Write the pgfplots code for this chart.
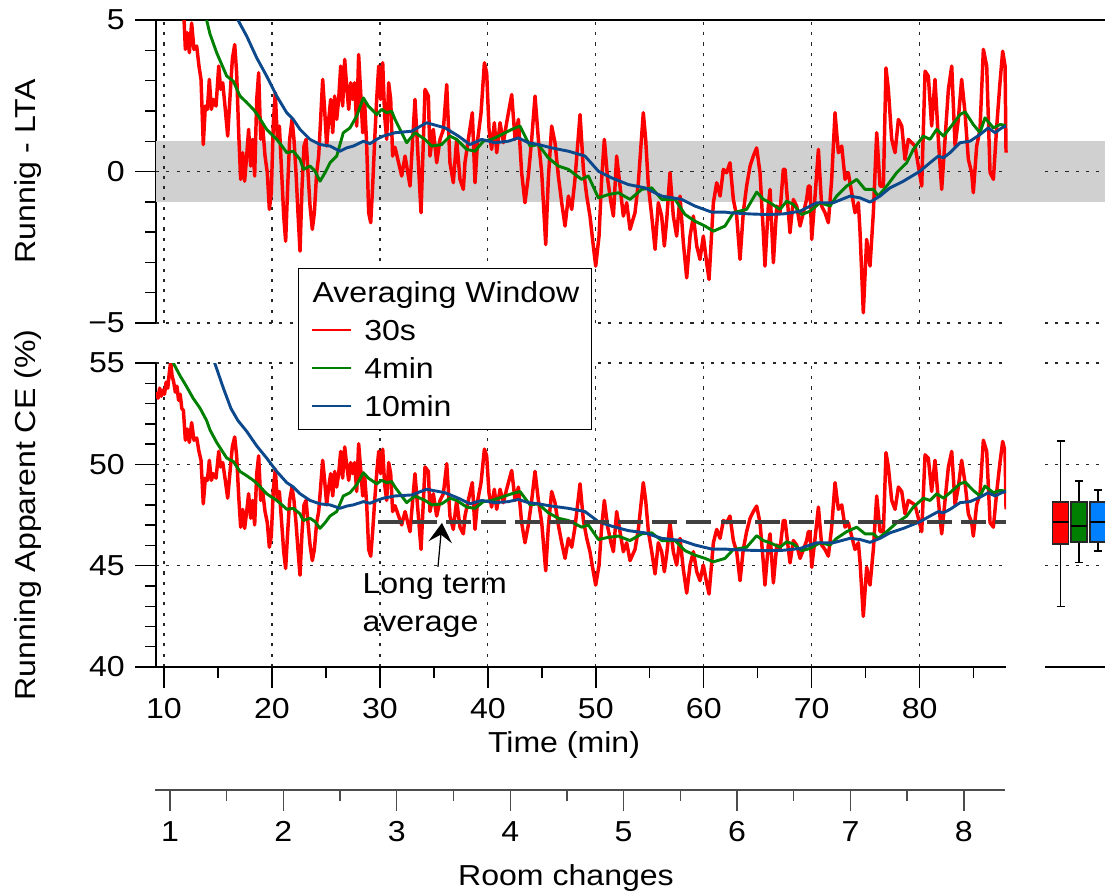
\documentclass[border=0pt]{standalone}
\usepackage{fontspec}
\setmainfont{Liberation Sans}[FakeStretch=1.11]
\usepackage{pgfplots}
\usepackage{pgfplotstable}
\pgfplotsset{compat=1.18}
\usetikzlibrary{arrows.meta}

\definecolor{w30s}{RGB}{255,0,0}
\definecolor{w4min}{RGB}{0,128,0}
\definecolor{w10min}{RGB}{12,72,140}
\definecolor{boxblue}{RGB}{0,128,255}
\definecolor{bandgray}{RGB}{208,208,208}
\definecolor{ltagray}{RGB}{64,64,64}

% running value minus long term average (LTA = 47.16 %)
\pgfplotstableread{
t dev
9.30 6.40
9.45 6.10
9.60 6.60
9.75 6.20
9.90 6.50
10.05 6.30
10.20 6.90
10.35 6.60
10.50 7.40
10.62 7.90
10.75 7.20
10.90 6.90
11.05 6.40
11.20 6.70
11.35 6.00
11.50 6.30
11.65 5.60
11.80 5.50
11.98 4.03
12.16 4.58
12.35 3.92
12.56 4.90
12.78 4.03
13.03 4.14
13.24 3.48
13.43 3.04
13.64 0.89
13.83 2.16
14.02 2.05
14.20 3.04
14.39 2.05
14.57 2.38
14.82 2.16
15.07 3.48
15.25 2.71
15.44 2.93
15.68 2.05
15.90 1.17
16.12 2.49
16.33 3.70
16.55 4.19
16.73 3.26
16.92 1.28
17.10 -0.26
17.29 0.62
17.47 -0.32
17.66 0.51
17.84 1.39
18.03 0.18
18.21 1.06
18.40 -0.15
18.59 2.38
18.77 3.26
18.96 1.06
19.14 1.50
19.36 0.51
19.57 -0.04
19.76 -1.25
19.94 -0.70
20.13 1.61
20.31 2.60
20.50 1.06
20.69 1.50
20.90 -0.04
21.09 -1.47
21.27 -2.30
21.46 -0.48
21.64 1.06
21.86 1.72
22.04 1.06
22.23 -0.04
22.41 -1.36
22.60 -2.63
22.79 -0.48
22.97 0.84
23.16 1.06
23.34 -0.04
23.53 -1.14
23.74 -1.91
23.93 -1.36
24.14 -0.04
24.33 0.51
24.51 1.72
24.70 3.04
24.88 2.05
25.07 0.84
25.26 1.72
25.44 2.38
25.63 1.28
25.81 2.49
26.00 1.72
26.18 2.38
26.37 3.48
26.55 2.16
26.74 3.70
26.92 2.82
27.11 2.05
27.29 2.93
27.48 2.38
27.66 2.93
27.85 1.50
28.03 3.86
28.22 2.60
28.41 1.28
28.59 2.27
28.78 0.84
28.96 -1.36
29.15 -1.69
29.33 -0.48
29.52 1.06
29.70 2.38
29.89 3.48
30.07 2.38
30.26 3.59
30.44 1.83
30.63 1.06
30.81 2.93
31.00 2.38
31.18 0.51
31.40 0.80
32.02 -0.15
32.33 0.51
32.79 -0.48
33.25 2.38
33.81 -1.36
34.18 2.71
34.49 2.49
34.64 0.51
34.95 1.39
35.26 0.29
35.57 1.06
35.88 1.39
36.19 2.87
36.49 0.29
36.80 -0.37
37.11 1.06
37.42 -0.26
37.73 -0.59
37.88 0.29
38.19 1.06
38.56 1.94
38.81 -0.37
39.06 1.06
39.37 1.94
39.68 3.59
39.89 3.26
40.11 1.39
40.35 0.73
40.60 1.61
40.82 0.62
41.13 1.61
41.44 0.95
41.74 1.61
42.21 2.54
42.52 1.06
42.83 1.72
43.13 -0.04
43.44 -1.03
43.75 -0.15
44.06 1.06
44.37 2.49
44.68 1.06
44.99 -0.04
45.36 -2.41
45.60 -0.26
45.91 1.50
46.22 0.95
46.53 -0.15
46.84 -1.03
47.15 -1.80
47.46 -0.81
47.77 -1.25
48.07 -0.26
48.54 1.88
48.85 0.07
49.16 -0.81
49.46 -1.47
49.77 -2.46
49.99 -3.12
50.30 -2.13
50.54 -0.26
50.79 1.06
51.10 -0.26
51.41 -1.03
51.63 -1.47
51.93 0.51
52.24 -0.48
52.55 -1.47
52.86 -1.03
53.17 -1.91
53.63 -1.36
53.94 -0.37
54.40 1.94
54.62 1.06
54.87 -0.48
55.18 -1.47
55.49 -2.57
55.79 -1.03
56.10 -1.47
56.35 -2.46
56.57 -1.58
56.87 -0.04
57.18 -1.47
57.49 -2.13
57.80 -0.81
58.11 -2.35
58.42 -3.51
58.73 -2.13
59.04 -1.47
59.35 -2.46
59.65 -2.90
59.96 -2.13
60.27 -3.01
60.49 -3.56
60.89 -1.03
61.20 -0.37
61.51 -0.81
61.82 0.07
62.12 -0.04
62.43 0.29
62.74 -0.92
63.05 -1.47
63.36 -2.90
63.66 -1.36
63.97 -0.48
64.29 0.18
64.59 0.51
64.90 0.78
65.21 -0.04
65.52 -2.02
65.67 -3.12
65.98 -1.14
66.14 -0.59
66.45 -3.01
66.76 -1.14
67.06 -1.36
67.37 0.07
67.53 0.07
67.84 -1.36
67.99 -2.02
68.30 -0.92
68.61 -1.14
68.92 -1.80
69.23 -1.36
69.53 -0.92
69.69 -0.48
69.84 -0.48
70.00 -2.24
70.31 -0.81
70.62 0.73
70.92 -1.14
71.23 -1.36
71.54 -1.69
71.85 -0.26
72.16 1.94
72.47 0.62
72.78 0.84
73.09 -0.26
73.39 -0.04
73.70 -0.70
74.01 -1.36
74.32 -1.03
74.48 -2.02
74.78 -4.66
75.09 -2.24
75.40 -3.12
75.71 -1.36
76.02 1.28
76.33 -0.48
76.64 -0.48
76.88 3.42
77.10 2.71
77.41 1.06
77.72 0.62
78.03 1.72
78.34 1.50
78.64 0.40
78.95 1.06
79.26 0.95
79.57 0.84
79.88 0.18
80.19 -0.48
80.50 3.31
80.80 3.15
81.11 1.50
81.42 3.04
81.73 1.06
82.04 -0.59
82.35 1.06
82.66 2.71
82.97 3.48
83.28 0.84
83.58 1.72
83.89 3.04
84.20 1.94
84.51 0.40
84.82 -0.04
84.97 -0.70
85.28 0.84
85.59 1.39
85.90 4.03
86.21 3.48
86.52 -0.04
86.83 -0.26
87.14 1.50
87.44 2.93
87.69 3.97
87.91 3.48
88.00 0.62
}\thirtysec

\pgfplotstableread{
t dev
10.50 8.20
10.86 7.84
11.50 7.20
12.10 6.67
12.70 6.10
13.34 5.61
13.95 5.00
14.26 4.54
14.88 3.92
15.81 3.15
16.42 2.98
17.04 2.49
17.60 2.30
18.28 2.05
18.74 1.83
19.51 1.39
20.44 1.06
21.06 0.78
21.37 0.62
21.98 0.67
22.60 0.40
22.91 0.07
23.53 0.18
24.00 0.01
24.45 -0.32
24.92 -0.04
25.38 0.29
26.00 0.51
26.61 1.28
27.23 1.44
27.85 1.83
28.47 2.43
28.93 2.16
29.70 1.88
30.16 2.05
30.63 1.94
31.09 1.99
31.40 1.72
31.86 1.39
32.48 0.95
33.25 1.28
34.18 1.06
34.80 0.84
35.72 0.89
36.49 1.17
37.11 1.06
38.04 0.73
38.81 0.67
39.58 1.00
40.35 1.06
41.28 1.22
42.21 1.39
42.98 1.50
43.44 1.17
43.91 0.84
44.68 0.89
45.60 0.45
46.53 0.18
47.46 0.07
48.69 -0.26
49.31 -0.15
50.24 -0.87
51.16 -0.76
52.09 -0.70
53.17 -0.92
54.25 -0.59
55.18 -0.54
56.10 -0.92
57.34 -0.92
58.27 -1.42
59.19 -1.64
60.12 -1.80
60.89 -1.97
61.97 -1.80
62.74 -1.36
63.97 -1.25
64.90 -0.68
65.52 -0.92
66.14 -1.03
67.06 -1.25
67.68 -0.98
68.30 -1.09
69.07 -1.42
69.84 -1.31
70.77 -1.03
71.70 -1.14
72.31 -0.81
73.24 -0.48
74.17 -0.26
74.94 -0.59
75.71 -0.59
76.17 -0.81
76.95 -0.48
77.87 -0.04
78.80 0.29
79.41 0.73
80.34 1.17
80.96 1.06
81.58 1.39
82.20 1.17
82.81 1.44
83.74 1.88
84.20 1.97
84.97 1.55
85.59 1.28
86.05 1.77
86.83 1.44
87.45 1.55
88.00 1.52
}\fourmin

\pgfplotstableread{
t dev
13.50 9.00
14.70 7.84
15.50 6.60
16.20 5.60
16.85 5.00
17.66 4.47
18.59 3.75
19.51 3.15
20.44 2.49
21.37 1.94
21.98 1.72
22.60 1.39
23.53 1.06
24.45 0.89
25.38 0.84
26.30 0.67
26.92 0.78
27.54 0.84
28.47 1.00
29.08 0.92
29.70 1.06
30.32 1.17
31.40 1.28
32.94 1.33
34.33 1.61
36.03 1.44
37.27 1.17
38.35 0.89
39.43 1.06
40.66 0.95
41.90 1.00
42.83 1.11
43.75 0.95
44.68 0.89
45.91 0.78
47.46 0.67
49.00 0.51
50.24 0.01
51.47 -0.21
53.01 -0.43
54.56 -0.54
56.10 -0.81
57.96 -0.92
59.19 -1.14
60.73 -1.34
61.97 -1.34
62.43 -1.36
64.28 -1.40
65.83 -1.42
67.37 -1.40
68.92 -1.31
70.46 -1.03
72.00 -1.03
73.55 -0.81
74.48 -0.87
75.40 -1.01
76.33 -0.81
77.25 -0.54
78.49 -0.32
80.03 0.01
80.96 0.29
81.73 0.51
82.20 0.45
82.81 0.62
83.74 0.95
84.66 1.00
85.59 1.22
86.36 1.44
86.98 1.28
87.60 1.44
88.00 1.50
}\tenmin

\tikzset{gridline/.style={black!85, line width=0.45pt, dash pattern=on 1.1pt off 2.6pt}}
\pgfplotsset{
  /pgf/number format/assume math mode=true,
  panel/.style={
    scale only axis,
    tick align=outside,
    major tick length=7.56pt,
    minor tick length=3.96pt,
    every tick/.style={black, line width=0.5pt},
    axis line style={black, line width=0.5pt},
    clip mode=individual,
  },
  series/.style={line width=1.05pt, line join=round},
  fast/.style={line width=1.25pt, line join=round},
  boxedge/.style={draw=black!85, line width=0.7pt},
  legend image code/.code={\draw[#1, line width=0.8pt] (0pt,0pt) -- (14pt,0pt);},
}

\begin{document}
\fontsize{10.4}{12.5}\selectfont
\begin{tikzpicture}

% upper panel: running value minus LTA
\begin{axis}[panel,
  anchor=north west, at={(56.16pt,-7.2pt)},
  width=341.64pt, height=109.08pt,
  xmin=9.26, xmax=97.17, ymin=-5, ymax=5,
  axis x line*=top, axis y line*=left,
  xtick=\empty,
  ytick={-5,0,5}, yticklabels={−5,0,5},
  minor ytick={-4,-3,-2,-1,1,2,3,4},
  ylabel={Runnig - LTA},
  ylabel style={at={(axis description cs:-0.1349,0.5)}, anchor=center},
]
  \fill[bandgray] (axis cs:9.3,-1) rectangle (axis cs:97.17,1);
  \pgfplotsinvokeforeach{10,20,...,80}{\draw[gridline] (axis cs:#1,-5) -- (axis cs:#1,5);}
  \draw[gridline] (axis cs:9.26,0) -- (axis cs:88,0) (axis cs:91.6,0) -- (axis cs:97.17,0);
  \draw[gridline] (axis cs:9.26,-5) -- (axis cs:88,-5) (axis cs:91.6,-5) -- (axis cs:97.17,-5);
  \addplot[fast, w30s] table[x=t, y=dev] {\thirtysec};
  \addplot[series, w4min] table[x=t, y=dev] {\fourmin};
  \addplot[series, w10min] table[x=t, y=dev] {\tenmin};
\end{axis}

% lower panel: running apparent CE
\begin{axis}[panel,
  anchor=north west, at={(56.16pt,-130.68pt)},
  width=306pt, height=109.44pt,
  xmin=9.26, xmax=88, ymin=40, ymax=55,
  axis x line*=bottom, axis y line*=left,
  xtick={10,20,...,80}, minor xtick={15,25,...,85},
  ytick={40,45,50,55}, minor ytick={41,42,43,44,46,47,48,49,51,52,53,54},
  grid=major, major grid style={gridline},
  xlabel={Time (min)},
  xlabel style={at={(axis description cs:0.48,-0.2566)}, anchor=center},
  ylabel={Running Apparent CE (\%)},
  ylabel style={at={(axis description cs:-0.1506,0.5)}, anchor=center},
  legend style={
    at={(axis description cs:0.16706,1.3125)}, anchor=north west,
    draw=black, line width=0.5pt, fill=white,
    inner xsep=4.3pt, inner ysep=4.8pt,
    row sep=6.5pt, column sep=4.5pt,
    nodes={inner sep=0pt, text height=7.2pt, text depth=0pt},
    cells={anchor=west},
  },
]
  \addlegendimage{empty legend}
  \addlegendentry{\hspace*{-18.6pt}Averaging Window}
  \addplot[fast, w30s] table[x=t, y expr=\thisrow{dev}+47.16] {\thirtysec};
  \addlegendentry{30s}
  \addplot[series, w4min] table[x=t, y expr=\thisrow{dev}+47.16] {\fourmin};
  \addlegendentry{4min}
  \addplot[series, w10min] table[x=t, y expr=\thisrow{dev}+47.16] {\tenmin};
  \addlegendentry{10min}
  \addplot[ltagray, line width=1.44pt, dash pattern=on 9pt off 3.35pt, forget plot]
    coordinates {(29.8,47.16) (88,47.16)};
  \draw[line width=0.45pt, -{Stealth[length=7pt,width=8.5pt,inset=2.8pt]}]
    (axis cs:35.38,44.94) -- (axis cs:35.75,47.11);
  \node[anchor=north west, align=left, inner sep=0pt, font=\fontsize{10.4}{13.7}\selectfont]
    at (axis cs:28.34,44.64) {Long term\\average};
\end{axis}

% distribution of each running series (whiskers, quartile box, median)
\begin{axis}[panel,
  anchor=north west, at={(376.2pt,-130.68pt)},
  width=21.6pt, height=109.44pt,
  xmin=0, xmax=60, ymin=40, ymax=55,
  axis x line*=bottom, axis y line*=left,
  y axis line style={draw=none},
  xtick=\empty, ytick={45,50,55}, yticklabels={}, ytick style={draw=none},
  ymajorgrids, major grid style={gridline},
  clip=false,
]
  % 30 s window
  \addplot[black, line width=0.6pt] coordinates {(15.5,42.98) (15.5,51.15)};
  \addplot[black, line width=0.6pt] coordinates {(11.5,51.15) (19.5,51.15)};
  \addplot[black, line width=0.6pt] coordinates {(11.5,42.98) (19.5,42.98)};
  \addplot[boxedge, fill=w30s] coordinates {(7.5,46.06) (23.5,46.06) (23.5,48.13) (7.5,48.13)} -- cycle;
  \addplot[black, line width=0.6pt] coordinates {(7.5,47.15) (23.5,47.15)};
  % 4 min window
  \addplot[black, line width=0.6pt] coordinates {(34.2,45.15) (34.2,49.18)};
  \addplot[black, line width=0.6pt] coordinates {(30.2,49.18) (38.2,49.18)};
  \addplot[black, line width=0.6pt] coordinates {(30.2,45.15) (38.2,45.15)};
  \addplot[boxedge, fill=w4min] coordinates {(26.2,46.19) (42.2,46.19) (42.2,48.16) (26.2,48.16)} -- cycle;
  \addplot[black, line width=0.6pt] coordinates {(26.2,46.95) (42.2,46.95)};
  % 10 min window
  \addplot[black, line width=0.6pt] coordinates {(52.9,45.72) (52.9,48.73)};
  \addplot[black, line width=0.6pt] coordinates {(48.9,48.73) (56.9,48.73)};
  \addplot[black, line width=0.6pt] coordinates {(48.9,45.72) (56.9,45.72)};
  \addplot[boxedge, fill=boxblue] coordinates {(44.9,46.16) (60.9,46.16) (60.9,48.13) (44.9,48.13)} -- cycle;
  \addplot[black, line width=0.6pt] coordinates {(44.9,47.15) (60.9,47.15)};
\end{axis}

% room changes scale
\begin{axis}[panel,
  anchor=south west, at={(55.8pt,-284.4pt)},
  width=306pt, height=1pt,
  xmin=0.868, xmax=8.363, ymin=0, ymax=1,
  hide y axis, axis x line*=bottom,
  axis line style={black!70, line width=0.5pt},
  every tick/.style={black!70, line width=0.5pt},
  xtick={1,...,8}, minor xtick={1.5,2.5,...,7.5},
  xlabel={Room changes},
  xlabel style={at={(axis description cs:0.4835,0)}, anchor=center, yshift=-31.7pt},
]
\end{axis}

\pgfresetboundingbox
\path[use as bounding box] (0pt,0pt) rectangle (397.8pt,-321.48pt);
\end{tikzpicture}
\end{document}
